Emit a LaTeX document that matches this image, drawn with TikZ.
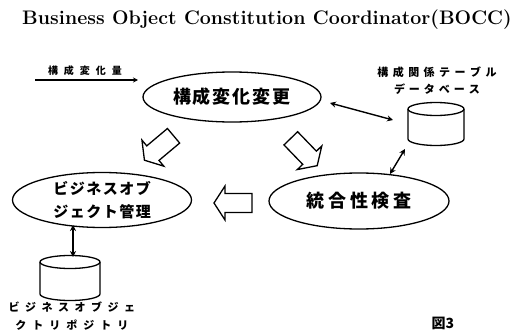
\documentclass[tikz,border=0pt]{standalone}
\usepackage{fontspec}
\usetikzlibrary{shapes.geometric,arrows.meta,calc}
\newfontfamily\jp{Noto Sans CJK JP}
\newcommand\spreadtxt[2]{\def\spreadk{#1}\spreadloop#2\relax}
\def\spreadloop#1{\ifx\relax#1\unkern\else#1\kern\spreadk\expandafter\spreadloop\fi}
\tikzset{
  oval/.style={ellipse, draw, line width=1.3pt, inner sep=0pt},
  dbase/.style={rectangle, inner sep=0pt, outer sep=0pt},
  cylline/.style={line width=1.3pt},
  dbl/.style={line width=1.4pt, {Stealth[length=6pt,width=6pt]}-{Stealth[length=6pt,width=6pt]}},
  fat/.style={line width=1.3pt, line join=miter, fill=white},
  lbl/.style={inner sep=0pt, font=\jp\bfseries},
}
\newcommand\cylshape[2]{%
  \draw[cylline] ($(#1.north west)+(0,6.5)$) -- ($(#1.south west)+(0,-6.5)$)
    arc[start angle=180, end angle=0, x radius=#2, y radius=6.5] -- ($(#1.north east)+(0,6.5)$);
  \draw[cylline] ($(#1.north)+(0,6.5)$) ellipse[x radius=#2, y radius=6.5];}
\newcommand\fatarrow[2]{%
  \begin{scope}[shift={#1}, rotate=#2]
    \draw[fat] (-19,-9.5) -- (8,-9.5) -- (8,-17) -- (19,0) -- (8,17) -- (8,9.5) -- (-19,9.5) -- cycle;
  \end{scope}}
\begin{document}
\begin{tikzpicture}[x=1pt,y=-1pt]
\useasboundingbox (0,0) rectangle (528,332);
% title
\node[inner sep=0pt, font=\bfseries\fontsize{19.6}{24}\selectfont] (title) at (267,20)
  {Business Object Constitution Coordinator(BOCC)};
% top ellipse
\node[oval, minimum width=178, minimum height=50] (e1) at (232,97)
  {\jp\bfseries\fontsize{18}{20}\selectfont\spreadtxt{2pt}{構成変化変更}};
% input label
\node[lbl, font=\jp\bfseries\fontsize{10}{12}\selectfont] (in) at (85,71) {\spreadtxt{6pt}{構成変化量}};
\coordinate (in1) at (35,80);
\coordinate (in2) at (138,80);
\draw[line width=1.2pt, -{Stealth[length=5pt,width=5pt]}] (in1) -- (in2);
% database 1
\node[dbase, minimum width=56, minimum height=43] (db1) at (436,124) {};
\cylshape{db1}{28}
\node[lbl, align=center, font=\jp\bfseries\fontsize{11}{17}\selectfont] (db1l) at (437,81)
  {\spreadtxt{4.5pt}{構成関係テーブル}\\\spreadtxt{4pt}{データベース}};
\draw[dbl] ($(e1.center)+(98,6)$) -- ($(db1.center)+(-43,-4)$);
% consistency check
\node[oval, minimum width=180, minimum height=56] (e3) at (359,201)
  {\jp\bfseries\fontsize{18}{20}\selectfont\spreadtxt{3.6pt}{統合性検査}};
\draw[dbl] ($(e3.center)+(31,-27)$) -- ($(db1.center)+(-31,25)$);
% business object management
\node[oval, minimum width=179, minimum height=55, align=center,
  font=\jp\bfseries\fontsize{15}{23}\selectfont] (e2) at (102,200)
  {\spreadtxt{1.5pt}{ビジネスオブ}\\\spreadtxt{1.5pt}{ジェクト管理}};
% database 2
\node[dbase, minimum width=60, minimum height=45] (db2) at (70,278) {};
\cylshape{db2}{30}
\draw[dbl] ($(db2.center)+(3,-21)$) -- ($(db2.center)+(3,-53)$);
\node[lbl, align=center, font=\jp\bfseries\fontsize{11}{18}\selectfont] (db2l) at (72,316)
  {\spreadtxt{5.5pt}{ビジネスオブジェ}\\\spreadtxt{6pt}{クトリポジトリ}};
% hollow arrows
\fatarrow{(159,148)}{220}
\fatarrow{(304,152)}{-46}
\fatarrow{(233,203)}{180}
% figure label
\node[lbl, font=\jp\bfseries\fontsize{14}{16}\selectfont] (fig) at (443,323) {図3};
\end{tikzpicture}
\end{document}
